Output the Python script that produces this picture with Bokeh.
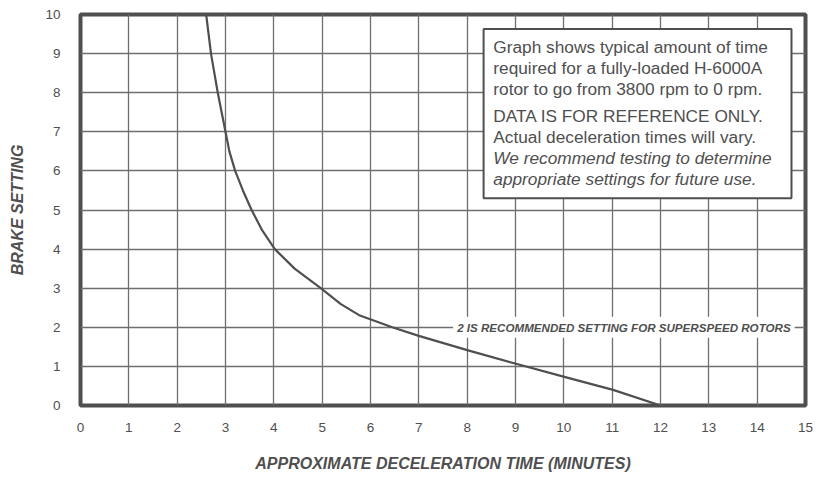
from bokeh.plotting import figure
from bokeh.models import Range1d, FixedTicker, Label, BoxAnnotation
from bokeh.embed import file_html
from bokeh.resources import INLINE

# Data
decel_minutes = [2.6, 2.7, 2.84, 3.0, 3.08, 3.2, 3.36, 3.54, 3.75, 4.02, 4.43, 4.97, 5.38, 5.78,
                 6.45, 7.0, 8.02, 9.03, 10.05, 11.02, 12.0]
brake_setting = [10.0, 9.0, 8.0, 7.0, 6.5, 6.0, 5.5, 5.0, 4.5, 4.0, 3.5, 3.0, 2.6, 2.3,
                 2.0, 1.78, 1.41, 1.06, 0.72, 0.4, 0.0]
x_ticks = list(range(0, 16))
y_ticks = list(range(0, 11))
note_lines = [
    "Graph shows typical amount of time",
    "required for a fully-loaded H-6000A",
    "rotor to go from 3800 rpm to 0 rpm.",
    "DATA IS FOR REFERENCE ONLY.",
    "Actual deceleration times will vary.",
    "We recommend testing to determine",
    "appropriate settings for future use.",
]
note_italic = [False, False, False, False, False, True, True]
callout_text = "2 IS RECOMMENDED SETTING FOR SUPERSPEED ROTORS"
callout_setting = 2

INK = "#4f4f4f"
FONT = "Liberation Sans"

p = figure(frame_width=725, frame_height=391, output_backend="svg", toolbar_location=None,
           x_range=Range1d(0, 15), y_range=Range1d(0, 10),
           min_border_left=80, min_border_right=10, min_border_top=14, min_border_bottom=66)
p.background_fill_color = "white"
p.border_fill_color = "white"
p.outline_line_color = INK
p.outline_line_width = 4

for ax in (p.xaxis[0], p.yaxis[0]):
    ax.axis_line_color = None
    ax.major_tick_line_color = None
    ax.minor_tick_line_color = None
    ax.major_label_text_font = FONT
    ax.major_label_text_font_size = "13.5px"
    ax.major_label_text_color = INK
    ax.axis_label_text_font = FONT
    ax.axis_label_text_font_size = "16px"
    ax.axis_label_text_font_style = "bold italic"
    ax.axis_label_text_color = INK

p.xaxis.ticker = FixedTicker(ticks=x_ticks)
p.yaxis.ticker = FixedTicker(ticks=y_ticks)
p.xaxis.axis_label = "APPROXIMATE DECELERATION TIME (MINUTES)"
p.yaxis.axis_label = "BRAKE SETTING"
p.xaxis.major_label_standoff = 11
p.yaxis.major_label_standoff = 14
p.xaxis.axis_label_standoff = 20
p.yaxis.axis_label_standoff = 16

p.xgrid.ticker = FixedTicker(ticks=x_ticks)
p.ygrid.ticker = FixedTicker(ticks=y_ticks)
for g in (p.xgrid[0], p.ygrid[0]):
    g.grid_line_color = "#6e6e6e"
    g.grid_line_width = 1.3
    g.grid_line_alpha = 1.0

p.line(decel_minutes, brake_setting, line_color=INK, line_width=2.2, line_join="round")

# Callout on the recommended setting line
p.add_layout(Label(x=7.71, y=callout_setting, text=callout_text, text_font=FONT,
                   text_font_size="11.6px", text_font_style="bold italic", text_color=INK,
                   text_baseline="middle", text_align="left",
                   background_fill_color="white", padding=4))

# Note box
p.add_layout(BoxAnnotation(left=8.34, right=14.71, top=9.63, bottom=5.30,
                           fill_color="white", fill_alpha=1.0,
                           line_color=INK, line_width=2, line_alpha=1.0))
line_y = [9.18, 8.64, 8.09, 7.40, 6.86, 6.34, 5.79]
for txt, yy, it in zip(note_lines, line_y, note_italic):
    p.add_layout(Label(x=8.54, y=yy, text=txt, text_font=FONT, text_font_size="17.3px",
                       text_font_style="italic" if it else "normal", text_color=INK,
                       text_baseline="middle", text_align="left"))

open("out.html", "w").write(file_html(p, INLINE))
